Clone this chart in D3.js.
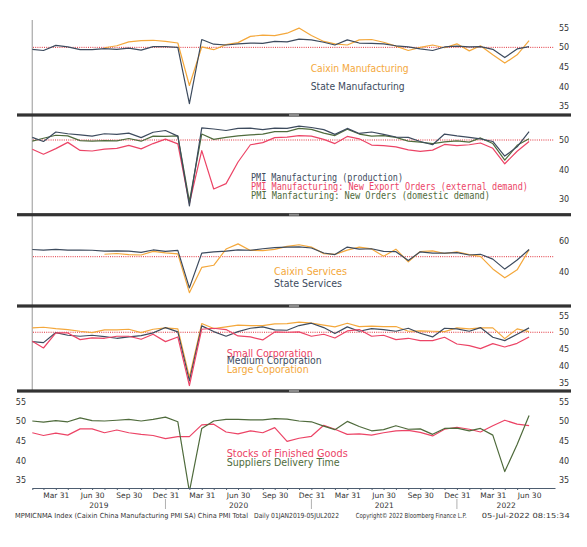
<!DOCTYPE html>
<html>
<head>
<meta charset="utf-8">
<title>China PMI</title>
<script src="https://cdn.jsdelivr.net/npm/d3@7"></script>
<style>
	body { margin: 0; background: #fff; }
	svg text { font-family: "DejaVu Sans", sans-serif; }
	.ax text { font-size: 8px; fill: #333; }
	.ax path, .ax line { stroke: #4d5d70; }
	.mon text { font-size: 7.5px; fill: #333; }
	.mono { font-family: "DejaVu Sans Mono", monospace !important; }
</style>
</head>
<body>
<script>
var w = 587, h = 547;

// month of each observation (plotted at month end)
var months = ['2019-01','2019-02','2019-03','2019-04','2019-05','2019-06','2019-07','2019-08','2019-09','2019-10','2019-11','2019-12',
              '2020-01','2020-02','2020-03','2020-04','2020-05','2020-06','2020-07','2020-08','2020-09','2020-10','2020-11','2020-12',
              '2021-01','2021-02','2021-03','2021-04','2021-05','2021-06','2021-07','2021-08','2021-09','2021-10','2021-11','2021-12',
              '2022-01','2022-02','2022-03','2022-04','2022-05','2022-06'];

// panel 1
var caixinMfg = [null,null,null,null,null,null,49.9,50.4,51.4,51.7,51.8,51.5,
                 51.1,40.3,50.1,49.4,50.7,51.2,52.8,53.1,53.0,53.6,54.9,53.0,
                 51.5,50.9,50.6,51.9,52.0,51.3,50.3,49.2,50.0,50.6,49.9,50.9,
                 49.1,50.4,48.1,46.0,48.1,51.7];
var stateMfg = [49.5,49.2,50.5,50.1,49.4,49.4,49.7,49.5,49.8,49.3,50.2,50.2,
                50.0,35.7,52.0,50.8,50.6,50.9,51.1,51.0,51.5,51.4,52.1,51.9,
                51.3,50.6,51.9,51.1,51.0,50.9,50.4,50.1,49.6,49.2,50.1,50.3,
                50.1,50.2,49.5,47.4,49.6,50.2];
// panel 2
var production = [50.9,49.5,52.7,52.1,51.7,51.3,52.1,51.9,52.3,50.8,52.6,53.2,
                  51.3,27.8,54.1,53.7,53.2,53.9,54.0,53.5,54.0,53.9,54.7,54.2,
                  53.5,51.9,53.9,52.2,52.7,51.9,51.0,50.9,49.5,48.4,52.0,51.4,
                  50.9,50.4,49.5,44.6,47.7,52.8];
var exportOrders = [46.9,45.2,47.1,49.2,46.5,46.3,46.9,47.2,48.2,47.0,48.8,50.3,
                    48.7,28.7,46.4,33.5,35.3,42.6,48.4,49.1,50.8,51.0,51.5,51.3,
                    50.2,48.8,51.2,50.4,48.3,48.1,47.7,46.7,46.2,46.6,48.5,48.1,
                    48.4,49.0,47.2,42.0,46.2,49.5];
var newOrders = [49.6,50.6,51.6,51.4,49.8,49.6,49.8,49.7,50.5,49.6,51.3,51.2,
                 51.4,29.3,52.0,50.2,50.9,51.4,51.7,52.0,52.8,52.8,53.9,53.6,
                 52.3,51.5,53.6,52.0,51.3,51.5,50.9,49.6,49.3,48.8,49.4,49.7,
                 49.3,50.7,48.8,43.2,48.2,50.4];
// panel 3
var caixinServ = [null,null,null,null,null,null,51.6,52.1,51.3,51.1,53.5,52.5,
                  51.8,26.5,43.0,44.4,55.0,58.4,54.1,54.0,54.8,56.8,57.8,56.3,
                  52.0,51.5,54.3,56.3,55.1,50.3,54.9,46.7,53.4,53.8,52.1,53.1,
                  51.4,50.2,42.0,36.2,41.4,54.5];
var stateServ = [54.7,54.3,54.8,54.3,54.3,54.2,53.7,53.8,53.7,52.8,54.4,53.5,
                 54.1,29.6,52.3,53.2,53.6,54.4,54.2,55.2,55.9,56.2,56.4,55.7,
                 52.4,51.4,56.3,54.9,55.2,53.5,53.3,47.5,53.2,52.4,52.3,52.7,
                 51.1,51.6,48.4,41.9,47.8,54.7];
// panel 4
var largeCorp = [51.3,51.5,51.1,50.8,50.3,49.9,50.7,50.7,50.9,49.9,50.9,51.3,
                 51.0,36.6,52.6,51.1,51.6,52.1,52.0,52.0,52.5,52.6,53.0,52.7,
                 52.1,51.6,52.7,51.7,51.8,51.7,51.7,50.3,50.4,50.3,50.2,51.3,
                 51.0,51.3,51.3,48.1,51.0,50.2];
var mediumCorp = [47.2,46.9,49.9,49.1,48.8,49.1,48.7,48.2,48.6,49.0,49.8,51.4,
                  50.1,35.5,51.9,50.2,48.8,50.2,51.2,51.6,50.7,50.6,52.0,52.7,
                  51.4,49.6,51.6,50.3,51.1,50.8,50.3,51.2,49.7,48.6,51.2,51.0,
                  50.3,51.4,48.5,47.5,49.4,51.3];
var smallCorp = [47.3,45.3,49.8,49.8,47.8,48.3,48.2,48.8,48.8,47.9,49.4,47.2,
                 48.6,34.1,50.9,51.2,50.8,48.9,48.6,47.7,50.1,50.0,50.1,48.8,
                 49.4,48.3,50.4,50.8,48.8,49.1,47.8,48.2,47.5,47.5,48.5,46.5,
                 46.0,45.1,46.6,45.6,46.7,48.6];
// panel 5
var finishedGoods = [47.1,46.4,47.0,46.5,48.1,48.1,47.1,47.8,47.1,46.7,46.4,45.6,
                     46.1,46.1,49.1,49.3,47.3,46.8,47.6,47.1,48.4,44.9,45.7,46.2,
                     49.0,48.0,46.7,46.8,46.5,47.1,47.6,47.7,47.2,46.3,48.0,48.5,
                     48.0,47.3,48.9,50.3,49.3,48.9];
var deliveryTime = [50.1,49.8,50.2,49.9,50.9,50.2,50.1,50.3,50.5,50.1,50.5,51.1,
                    49.9,32.1,48.2,50.1,50.5,50.5,50.4,50.4,50.7,50.6,50.1,49.9,
                    48.8,47.9,50.0,48.7,47.6,47.9,48.9,48.0,48.1,46.7,48.2,48.3,
                    47.6,48.2,46.5,37.2,44.1,51.5];

// axis labels
var quarterEnds = ['2019-03-31','2019-06-30','2019-09-30','2019-12-31','2020-03-31','2020-06-30','2020-09-30',
                   '2020-12-31','2021-03-31','2021-06-30','2021-09-30','2021-12-31','2022-03-31','2022-06-30'];
var years = ['2019','2020','2021','2022'];
var yearBreaks = ['2019-12-31','2020-12-31','2021-12-31'];
var footer = ['MPMICNMA Index (Caixin China Manufacturing PMI SA) China PMI Total', 'Daily 01JAN2019-05JUL2022',
              'Copyright\u00a9 2022 Bloomberg Finance L.P.', '05-Jul-2022 08:15:34'];

var orange = '#f4a83c', slate = '#3d4b5e', pink = '#ec4466', olive = '#4f6b3c';

var parseDay = d3.timeParse('%Y-%m-%d');
var monthEnd = function(m) {
	return d3.timeDay.offset(d3.timeMonth.offset(d3.timeParse('%Y-%m')(m), 1), -1);
};
var dates = months.map(monthEnd);

var svg = d3.select('body').append('svg').attr('width', w).attr('height', h);

var x = d3.scaleTime().domain([new Date(2019, 0, 31), new Date(2022, 8, 3)]).range([32.3, 555]);

// panel layout
var panels = [
	{top: 20, bottom: 113.5, dom: [35, 55], rng: [106.3, 27.7], ticks: [35, 40, 45, 50, 55], ref: true,
	 series: [[caixinMfg, orange], [stateMfg, slate]],
	 legend: [['Caixin Manufacturing', 310.7, 71.5, 98, orange], ['State Manufacturing', 310.7, 89.5, 94, slate]], fs: 10.5},
	{top: 116.5, bottom: 213, dom: [30, 50], rng: [199.4, 140], ticks: [30, 40, 50], ref: true,
	 series: [[exportOrders, pink], [newOrders, olive], [production, slate]], mono: true,
	 legend: [['PMI Manufacturing (production)', 251, 181, 152, slate],
	          ['PMI Manufacturing: New Export Orders (external demand)', 251, 189.8, 277, pink],
	          ['PMI Manfacturing: New Orders (domestic demand)', 251, 199, 239, olive]], fs: 10.5},
	{top: 216, bottom: 304.5, dom: [40, 60], rng: [272, 241.4], ticks: [40, 60], ref: true,
	 series: [[caixinServ, orange], [stateServ, slate]],
	 legend: [['Caixin Services', 274, 274.8, 73, orange], ['State Services', 274, 287, 68, slate]], fs: 10.5},
	{top: 307.5, bottom: 389.5, dom: [35, 55], rng: [382.5, 315.5], ticks: [35, 40, 45, 50, 55], ref: true,
	 series: [[largeCorp, orange], [mediumCorp, slate], [smallCorp, pink]],
	 legend: [['Small Corporation', 226.7, 356.6, 86, pink], ['Medium Corporation', 226.7, 364, 95, slate],
	          ['Large Coporation', 226.7, 373, 82, orange]], fs: 11},
	{top: 392.5, bottom: 488, dom: [35, 55], rng: [480.2, 401.8], ticks: [35, 40, 45, 50, 55], ref: false, left: true,
	 series: [[finishedGoods, pink], [deliveryTime, olive]],
	 legend: [['Stocks of Finished Goods', 226.7, 457.2, 121, pink], ['Suppliers Delivery Time', 226.7, 465.6, 113, olive]], fs: 11}
];

// left vertical rule
svg.append('line').attr('x1', 32.3).attr('x2', 32.3).attr('y1', 20).attr('y2', 391)
	.attr('stroke', '#b4b4b4').attr('stroke-width', 1.4);

panels.forEach(function(p, i) {
	var y = d3.scaleLinear().domain(p.dom).range(p.rng);
	var g = svg.append('g');

	svg.append('clipPath').attr('id', 'clip' + i).append('rect')
		.attr('x', 32).attr('y', p.top).attr('width', 524).attr('height', p.bottom - p.top);

	if (p.ref) {
		g.append('line').attr('x1', 33).attr('x2', 554).attr('y1', y(50)).attr('y2', y(50))
			.attr('stroke', '#e0303a').attr('stroke-width', 1).attr('stroke-dasharray', '1,1.2');
	}

	var line = d3.line()
		.defined(function(d) { return d != null; })
		.x(function(d, j) { return x(dates[j]); })
		.y(function(d) { return y(d); });

	p.series.forEach(function(s) {
		g.append('path').datum(s[0]).attr('clip-path', 'url(#clip' + i + ')')
			.attr('fill', 'none').attr('stroke', s[1]).attr('stroke-width', 1.2)
			.attr('stroke-linejoin', 'round').attr('d', line);
	});

	var ra = svg.append('g').attr('class', 'ax').attr('transform', 'translate(559,0)')
		.call(d3.axisRight(y).tickValues(p.ticks).tickSize(0).tickPadding(0));
	ra.select('.domain').remove();
	if (p.left) {
		var la = svg.append('g').attr('class', 'ax').attr('transform', 'translate(26,0)')
			.call(d3.axisLeft(y).tickValues(p.ticks).tickSize(0).tickPadding(0));
		la.select('.domain').remove();
	}

	p.legend.forEach(function(l) {
		svg.append('text').attr('class', p.mono ? 'mono' : null)
			.attr('x', l[1]).attr('y', l[2]).attr('font-size', p.fs)
			.attr('textLength', l[3]).attr('lengthAdjust', 'spacingAndGlyphs')
			.attr('fill', l[4]).text(l[0]);
	});
});

// panel dividers with grip
[115, 214.7, 306, 391].forEach(function(yy) {
	svg.append('rect').attr('x', 17).attr('y', yy - 1.6).attr('width', 554).attr('height', 3.2).attr('fill', '#333');
	svg.append('rect').attr('x', 289).attr('y', yy - 1).attr('width', 10).attr('height', 2).attr('fill', '#8a8a8a');
});

// time axis
var monthAxis = svg.append('g').attr('class', 'ax').attr('transform', 'translate(0,488)')
	.call(d3.axisBottom(x).tickValues(dates).tickSize(2).tickSizeOuter(0).tickFormat(''));
monthAxis.select('.domain').attr('stroke', '#4d5d70');

var qAxis = svg.append('g').attr('class', 'mon').attr('transform', 'translate(0,488)')
	.call(d3.axisBottom(x).tickValues(quarterEnds.map(parseDay)).tickSize(0).tickPadding(4.5).tickFormat(d3.timeFormat('%b %d')));
qAxis.select('.domain').remove();

yearBreaks.forEach(function(d) {
	svg.append('line').attr('x1', x(parseDay(d))).attr('x2', x(parseDay(d))).attr('y1', 499).attr('y2', 509)
		.attr('stroke', '#b0b0b0').attr('stroke-width', 1);
});

years.forEach(function(yr) {
	var a = d3.max([x.domain()[0], parseDay(yr + '-01-01')]);
	var b = d3.min([x.domain()[1], parseDay(yr + '-12-31')]);
	svg.append('text').attr('x', (x(a) + x(b)) / 2).attr('y', 507.5).attr('text-anchor', 'middle')
		.attr('font-size', 7.5).attr('fill', '#333').text(yr);
});

// footer
var footPos = [[15, 233], [254, 85], [355.7, 111], [481.7, 88]];
footer.forEach(function(t, i) {
	svg.append('text').attr('x', footPos[i][0]).attr('y', 518).attr('font-size', 7)
		.attr('textLength', footPos[i][1]).attr('lengthAdjust', 'spacingAndGlyphs')
		.attr('fill', '#333').text(t);
});
</script>
</body>
</html>
